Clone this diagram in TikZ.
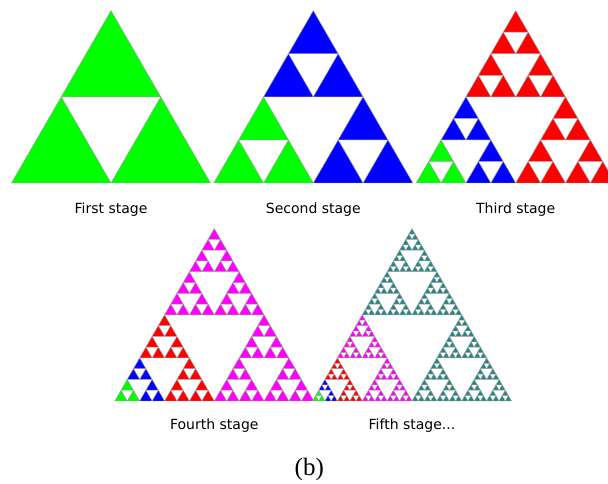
\documentclass[tikz,border=0pt]{standalone}
\usepackage{fontspec}
\newfontfamily\labelfont{DejaVu Sans}
\newfontfamily\capfont{Liberation Serif}
\definecolor{edgegray}{RGB}{160,160,160}
\definecolor{stc1}{RGB}{0,255,0}
\definecolor{stc2}{RGB}{0,0,255}
\definecolor{stc3}{RGB}{255,0,0}
\definecolor{stc4}{RGB}{255,0,255}
\definecolor{stc5}{RGB}{31,138,132}
\tikzset{
  tri/.style={draw=edgegray, line width=0.45pt, line join=miter},
  stagelabel/.style={anchor=base, inner sep=0pt, font=\labelfont\fontsize{14}{16}\selectfont},
  caption/.style={anchor=base, inner sep=0pt, font=\capfont\fontsize{25}{28}\selectfont}
}
% #1 depth, #2 x, #3 y (bottom-left corner), #4 side, #5 colour
\newcommand\sierp[5]{%
  \ifnum#1=0
    \filldraw[tri, fill=#5] (#2,#3) -- ++(#4,0) -- ++(120:#4) -- cycle;
  \else
    \begingroup
    \pgfmathsetmacro\sHS{#4/2}%
    \pgfmathsetmacro\sXR{#2+#4/2}%
    \pgfmathsetmacro\sXT{#2+#4/4}%
    \pgfmathsetmacro\sYT{#3+#4*0.4330127}%
    \pgfmathtruncatemacro\sDD{#1-1}%
    \edef\sNext{\noexpand\sierp{\sDD}{#2}{#3}{\sHS}{#5}\noexpand\sierp{\sDD}{\sXR}{#3}{\sHS}{#5}\noexpand\sierp{\sDD}{\sXT}{\sYT}{\sHS}{#5}}%
    \expandafter\endgroup\sNext
  \fi}
% #1 stage number, #2 x, #3 y, #4 side
\newcommand\stagetri[4]{%
  \ifnum#1=1
    \sierp{1}{#2}{#3}{#4}{stc1}%
  \else
    \begingroup
    \pgfmathsetmacro\sHS{#4/2}%
    \pgfmathsetmacro\sXR{#2+#4/2}%
    \pgfmathsetmacro\sXT{#2+#4/4}%
    \pgfmathsetmacro\sYT{#3+#4*0.4330127}%
    \pgfmathtruncatemacro\sDD{#1-1}%
    \edef\sNext{\noexpand\sierp{\sDD}{\sXR}{#3}{\sHS}{stc#1}\noexpand\sierp{\sDD}{\sXT}{\sYT}{\sHS}{stc#1}\noexpand\stagetri{\sDD}{#2}{#3}{\sHS}}%
    \expandafter\endgroup\sNext
  \fi}
\begin{document}
\begin{tikzpicture}[x=1pt,y=1pt]
\clip (0,0) rectangle (608,484);
\fill[white] (0,0) rectangle (608,484);
\stagetri{1}{11.5}{301}{199}
\stagetri{2}{213.8}{301}{199}
\stagetri{3}{416.2}{301}{199}
\stagetri{4}{114.8}{83}{199}
\stagetri{5}{312.5}{83}{199}
\node[stagelabel] (l1) at (111,270) {First stage};
\node[stagelabel] (l2) at (313.3,270) {Second stage};
\node[stagelabel] (l3) at (515.7,270) {Third stage};
\node[stagelabel] (l4) at (214.3,54) {Fourth stage};
\node[stagelabel] (l5) at (412,54) {Fifth stage...};
\node[caption] (cap) at (309.3,8) {(b)};
\end{tikzpicture}
\end{document}
